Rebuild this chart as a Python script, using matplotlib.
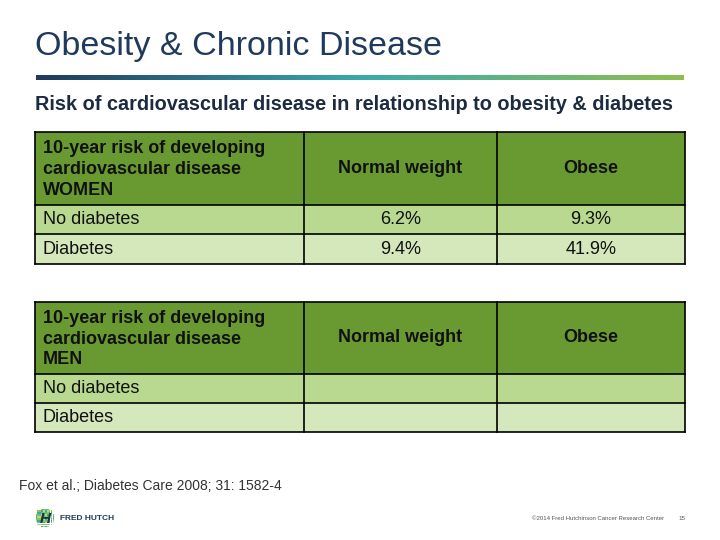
import matplotlib.pyplot as plt
import numpy as np
from matplotlib.colors import LinearSegmentedColormap
from matplotlib.patches import Rectangle

plt.rcParams['font.family'] = ['Liberation Sans', 'DejaVu Sans']

title = "Obesity & Chronic Disease"
subtitle = "Risk of cardiovascular disease in relationship to obesity & diabetes"
col_labels = ["Normal weight", "Obese"]
row_labels = ["No diabetes", "Diabetes"]
women_header = "10-year risk of developing\ncardiovascular disease\nWOMEN"
men_header = "10-year risk of developing\ncardiovascular disease\nMEN"
women_values = [["6.2%", "9.3%"], ["9.4%", "41.9%"]]
men_values = [["", ""], ["", ""]]
source = "Fox et al.; Diabetes Care 2008; 31: 1582-4"
copyright_text = "©2014 Fred Hutchinson Cancer Research Center"
page_no = "15"

navy = '#1f3a5c'
head_green = '#699a32'
row_colors = ['#b8d98f', '#d4e8bb']

fig = plt.figure(figsize=(7.2, 5.4), dpi=100)
ax = fig.add_axes([0, 0, 1, 1])
ax.set_xlim(0, 720)
ax.set_ylim(540, 0)
ax.axis('off')

# title + gradient rule
ax.text(35, 47, title, fontsize=24.5, color=navy, va='center', ha='left')
cmap = LinearSegmentedColormap.from_list('rule', [navy, '#3aa9ac', '#8dbf4f'])
ax.imshow(np.linspace(0, 1, 256).reshape(1, -1), cmap=cmap, aspect='auto',
          extent=[36, 684, 80, 75], zorder=1)
ax.text(35, 105, subtitle, fontsize=14.3, fontweight='bold', color='#1c2b40',
        va='center', ha='left')

col_x = [35, 304, 497, 685]


def draw_table(top, bottom, header_bottom, row_split, header, values):
    row_y = [top, header_bottom, row_split, bottom]
    # backgrounds
    ax.add_patch(Rectangle((col_x[0], row_y[0]), col_x[3] - col_x[0], row_y[1] - row_y[0],
                           facecolor=head_green, edgecolor='none'))
    for i in range(2):
        ax.add_patch(Rectangle((col_x[0], row_y[i + 1]), col_x[3] - col_x[0],
                               row_y[i + 2] - row_y[i + 1],
                               facecolor=row_colors[i], edgecolor='none'))
    # grid
    for x in col_x:
        ax.plot([x, x], [top, bottom], color='black', lw=1.2, solid_capstyle='projecting')
    for y in row_y:
        ax.plot([col_x[0], col_x[3]], [y, y], color='black', lw=1.2, solid_capstyle='projecting')
    # header text
    hy = (row_y[0] + row_y[1]) / 2
    ax.text(col_x[0] + 8, hy + 1, header, fontsize=13, fontweight='bold', va='center',
            ha='left', linespacing=1.28, color='#111111')
    for j, lab in enumerate(col_labels):
        ax.text((col_x[j + 1] + col_x[j + 2]) / 2, hy, lab, fontsize=13,
                fontweight='bold', va='center', ha='center', color='#111111')
    for i, lab in enumerate(row_labels):
        cy = (row_y[i + 1] + row_y[i + 2]) / 2
        ax.text(col_x[0] + 8, cy, lab, fontsize=13, va='center', ha='left', color='#111111')
        for j, v in enumerate(values[i]):
            ax.text((col_x[j + 1] + col_x[j + 2]) / 2, cy, v, fontsize=13,
                    va='center', ha='center', color='#111111')


draw_table(132, 264, 205, 234, women_header, women_values)
draw_table(302, 432, 374, 403, men_header, men_values)

# footer
ax.text(19, 486, source, fontsize=10, color='#333333', va='center', ha='left')

# logo: dotted circle with an H
logo_cols = ['#8dc63f', '#2e9fd8', '#3fa9a0', '#6cbf8a', '#1f6f9b', '#b5d98a']
cx, cy, r = 45, 518, 9.5
k = 0
for gx in np.arange(cx - r, cx + r, 1.9):
    for gy in np.arange(cy - r, cy + r, 1.9):
        if (gx + 0.9 - cx) ** 2 + (gy + 0.9 - cy) ** 2 <= r ** 2:
            ax.add_patch(Rectangle((gx, gy), 1.7, 1.7, facecolor=logo_cols[k % 6],
                                   edgecolor='none'))
            k += 1 if k % 3 else 2
ax.text(cx, cy + 1, 'H', fontsize=11, fontweight='bold', style='italic', color='#1f3347',
        ha='center', va='center')
ax.text(60, 518, 'FRED HUTCH', fontsize=6, fontweight='bold', color=navy,
        va='center', ha='left')

ax.text(532, 518, copyright_text, fontsize=4.3, color='#555555', va='center', ha='left')
ax.text(678, 518, page_no, fontsize=4.5, color='#555555', va='center', ha='left')

fig.savefig('out.png', dpi=100)
